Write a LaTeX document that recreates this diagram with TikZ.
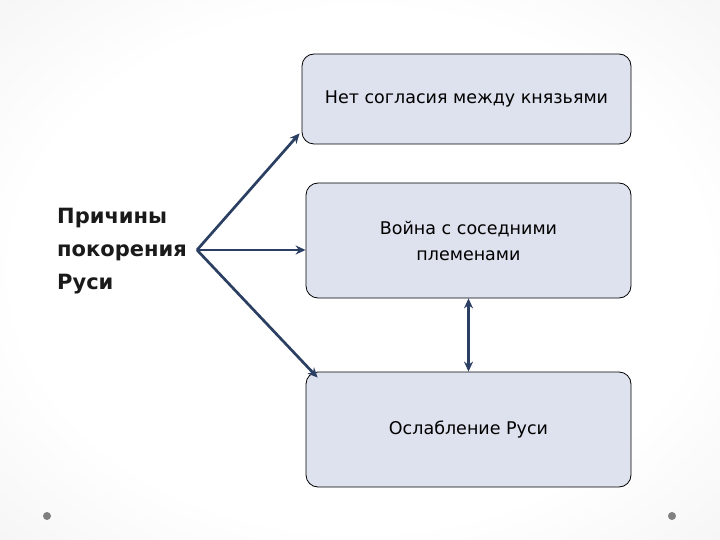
\documentclass[tikz,border=0pt]{standalone}
\usepackage{fontspec}
\setmainfont{DejaVu Sans}
\usetikzlibrary{arrows.meta,calc}
\definecolor{boxfill}{HTML}{DEE2EE}
\definecolor{arrowc}{HTML}{2B3F63}
\definecolor{dotc}{HTML}{808080}
\definecolor{txt}{HTML}{1A1A1A}
\pgfdeclareradialshading{bgshade}{\pgfpoint{0bp}{0bp}}{color(0bp)=(white); color(24bp)=(white); color(40bp)=(gray!10); color(50bp)=(gray!26)}
\tikzset{
  box/.style={draw=black, line width=0.8pt, fill=boxfill, rounded corners=12pt,
    align=center, text=black, font=\fontsize{17.5}{26}\selectfont, inner sep=4pt},
  conn/.style={draw=arrowc, line width=2.7pt, -{Stealth[length=10pt,width=9pt]}},
  dconn/.style={draw=arrowc, line width=2.7pt, {Stealth[length=10pt,width=9pt]}-{Stealth[length=10pt,width=9pt]}},
  dot/.style={circle, fill=dotc, inner sep=0pt, minimum size=8pt}
}
\begin{document}
\begin{tikzpicture}[x=1pt,y=-1pt]
\useasboundingbox (0,0) rectangle (720,540);
\shade[shading=bgshade] (0,0) rectangle (720,540);
\node[box, minimum width=329pt, minimum height=90pt] (b1) at (466.5,99) {Нет согласия между князьями};
\node[box, minimum width=325pt, minimum height=115pt] (b2) at (468.5,240.5) {Война с соседними\\племенами};
\node[box, minimum width=325pt, minimum height=115pt] (b3) at (468.5,429.5) {Ослабление Руси};
\node[anchor=west, align=left, text=txt, inner sep=0pt, font=\bfseries\fontsize{21}{33}\selectfont] (src) at (57,251) {Причины\\покорения\\Руси};
\coordinate (hub) at (197,250);
\coordinate (e1) at ($(b1.south west)+(-2,-11)$);
\coordinate (e2) at ($(b2.west)+(0,9.5)$);
\coordinate (e3) at ($(b3.north west)+(12,6)$);
\draw[conn] (hub) -- (e1);
\draw[conn] (hub) -- (e2);
\draw[conn] (hub) -- (e3);
\draw[dconn] (b2.south) -- (b3.north);
\node[dot] (d1) at (47,516) {};
\node[dot] (d2) at (672,516) {};
\end{tikzpicture}
\end{document}
